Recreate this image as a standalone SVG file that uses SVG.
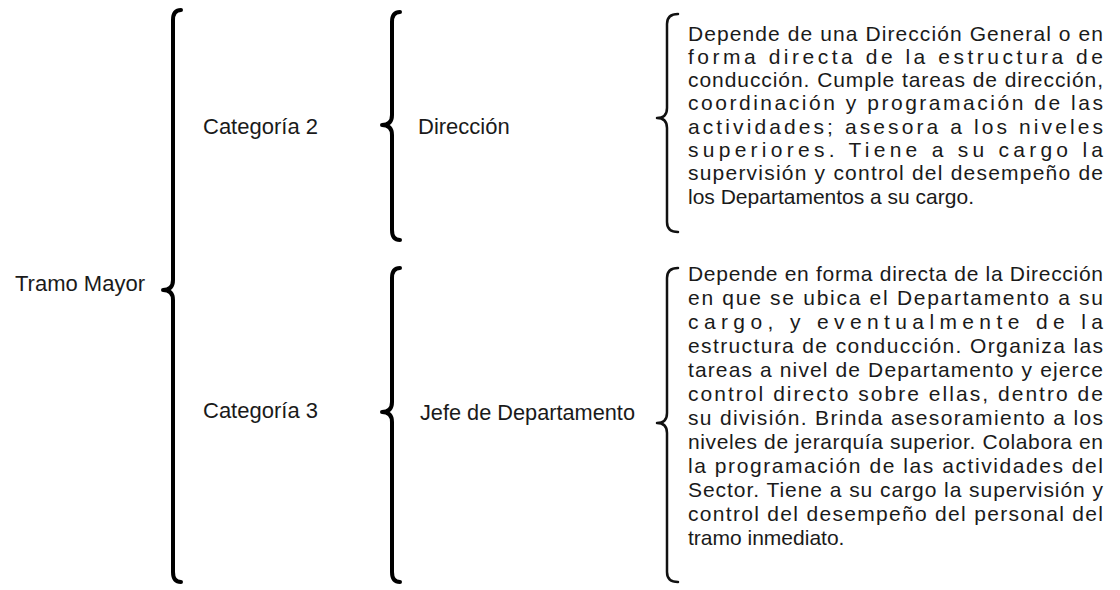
<svg xmlns="http://www.w3.org/2000/svg" width="1120" height="590" viewBox="0 0 1120 590">
<style>
.t{font-family:"Liberation Sans",Arial,sans-serif;font-size:21px;fill:#1a1a1a}
.l{font-family:"Liberation Sans",Arial,sans-serif;font-size:22px;fill:#1a1a1a}
.b{fill:none;stroke:#000;stroke-width:4;stroke-linecap:round;stroke-linejoin:round}
.bt{fill:none;stroke:#111;stroke-width:2.5;stroke-linecap:round;stroke-linejoin:round}
</style>
<rect width="1120" height="590" fill="#fff"/>
<g id="connectors">
<path class="b" d="M181,10 Q173,10 173,20 L173,280 Q173,290 163,290 Q173,290 173,300 L173,572 Q173,582 181,582"/>
<path class="b" d="M400,12 Q392,12 392,22 L392,115 Q392,125 382,125 Q392,125 392,135 L392,230 Q392,240 400,240"/>
<path class="b" d="M400,268 Q392,268 392,278 L392,402 Q392,412 382,412 Q392,412 392,422 L392,572 Q392,582 400,582"/>
<path class="bt" d="M678,14 Q667,14 667,24 L667,108 Q667,118 657,118 Q667,118 667,128 L667,222 Q667,232 678,232"/>
<path class="bt" d="M678,268 Q667,268 667,278 L667,413 Q667,423 657,423 Q667,423 667,433 L667,572 Q667,582 678,582"/>
</g>
<g id="tramo-mayor"><text class="l" x="15" y="291">Tramo Mayor</text></g>
<g id="categoria-2"><text class="l" x="203" y="134">Categoría 2</text></g>
<g id="categoria-3"><text class="l" x="203" y="418">Categoría 3</text></g>
<g id="direccion"><text class="l" x="418" y="134">Dirección</text></g>
<g id="jefe-departamento"><text class="l" x="420" y="420" textLength="215" lengthAdjust="spacingAndGlyphs">Jefe de Departamento</text></g>
<g id="desc-direccion" class="t">
<text x="688" y="41" textLength="415" lengthAdjust="spacing">Depende de una Dirección General o en</text>
<text x="688" y="64" textLength="415" lengthAdjust="spacing">forma directa de la estructura de</text>
<text x="688" y="87" textLength="415" lengthAdjust="spacing">conducción. Cumple tareas de dirección,</text>
<text x="688" y="110" textLength="415" lengthAdjust="spacing">coordinación y programación de las</text>
<text x="688" y="134" textLength="415" lengthAdjust="spacing">actividades; asesora a los niveles</text>
<text x="688" y="157" textLength="415" lengthAdjust="spacing">superiores. Tiene a su cargo la</text>
<text x="688" y="180" textLength="415" lengthAdjust="spacing">supervisión y control del desempeño de</text>
<text x="688" y="204">los Departamentos a su cargo.</text>
</g>
<g id="desc-jefe" class="t">
<text x="688" y="281" textLength="415" lengthAdjust="spacing">Depende en forma directa de la Dirección</text>
<text x="688" y="305" textLength="415" lengthAdjust="spacing">en que se ubica el Departamento a su</text>
<text x="688" y="329" textLength="415" lengthAdjust="spacing">cargo, y eventualmente de la</text>
<text x="688" y="353" textLength="415" lengthAdjust="spacing">estructura de conducción. Organiza las</text>
<text x="688" y="377" textLength="415" lengthAdjust="spacing">tareas a nivel de Departamento y ejerce</text>
<text x="688" y="401" textLength="415" lengthAdjust="spacing">control directo sobre ellas, dentro de</text>
<text x="688" y="425" textLength="415" lengthAdjust="spacing">su división. Brinda asesoramiento a los</text>
<text x="688" y="449" textLength="415" lengthAdjust="spacing">niveles de jerarquía superior. Colabora en</text>
<text x="688" y="473" textLength="415" lengthAdjust="spacing">la programación de las actividades del</text>
<text x="688" y="497" textLength="415" lengthAdjust="spacing">Sector. Tiene a su cargo la supervisión y</text>
<text x="688" y="521" textLength="415" lengthAdjust="spacing">control del desempeño del personal del</text>
<text x="688" y="545">tramo inmediato.</text>
</g>
</svg>
